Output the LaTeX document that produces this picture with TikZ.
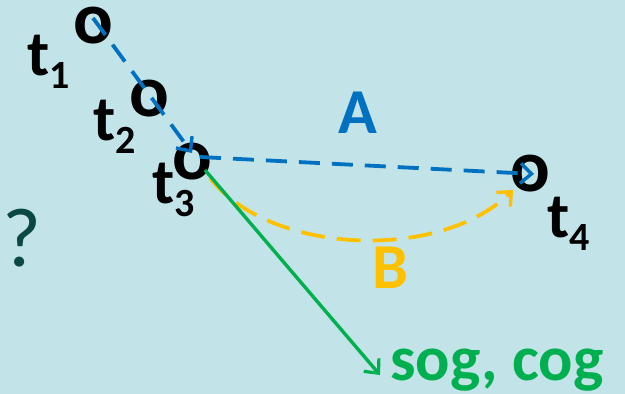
\documentclass[tikz,border=0pt]{standalone}
\usepackage{fontspec}
\setmainfont{Carlito}
\usepackage{tikz}
\usetikzlibrary{calc, arrows.meta}
\usepackage{xcolor}
\definecolor{PaleTeal}{HTML}{C2E4E8}
\definecolor{PathBlue}{HTML}{0070C0}
\definecolor{PathGold}{HTML}{FFC000}
\definecolor{PathGreen}{HTML}{00B050}
\definecolor{DeepTeal}{HTML}{0B4743}
\newcommand{\tsub}[1]{t\raisebox{-13pt}{\fontsize{40}{48}\selectfont #1}}

\begin{document}
\begin{tikzpicture}[x=1pt, y=-1pt,
    big/.style={inner sep=0pt, font=\fontsize{64}{76}\selectfont\bfseries},
    tlab/.style={big, anchor=base west},
    dot/.style={inner sep=0pt, anchor=center, font=\fontsize{74}{88}\selectfont\bfseries},
    dashA/.style={PathBlue, line width=3.8pt, dash pattern=on 21pt off 12pt, -{Straight Barb[length=11pt, width=20pt, line width=3.4pt]}},
    dashB/.style={PathGold, line width=3.8pt, dash pattern=on 24pt off 12pt, -{Straight Barb[length=11pt, width=20pt, line width=3.4pt]}},
    solidC/.style={PathGreen, line width=3.4pt, -{Straight Barb[length=11pt, width=20pt, line width=3.2pt]}}]
          \fill[PaleTeal] (0,0) rectangle (625,394);
          \useasboundingbox (0,0) rectangle (625,394);
          % time points
          \node[dot] (o1) at (93,26) {o};
          \node[dot] (o2) at (149,99) {o};
          \node[dot] (o3) at (192,162) {o};
          \node[dot] (o4) at (530,174) {o};
          \node[tlab] (t1) at (27,75) {\tsub{1}};
          \node[tlab] (t2) at (93,140) {\tsub{2}};
          \node[tlab] (t3) at (152,203) {\tsub{3}};
          \node[tlab] (t4) at (547,237) {\tsub{4}};
          \node[tlab, text=PathBlue] (labA) at (338,133) {A};
          \node[tlab, text=PathGold] (labB) at (372,288) {B};
          \node[tlab, text=PathGreen] (sog) at (390,380) {sog, cog};
          \node[inner sep=0pt, anchor=base west, text=DeepTeal, font=\fontsize{84}{96}\selectfont] (q) at (2,266) {?};
          % paths
          \draw[dashA] ([yshift=8pt]o1.center) -- ([yshift=9pt]o3.center);
          \draw[dashA] ([xshift=8pt, yshift=5pt]o3.center) -- ([xshift=4pt]o4.center);
          \draw[dashB] ([xshift=18pt, yshift=-16pt]o3.center) .. controls (270,255) and (440,262) .. ([xshift=-17pt, yshift=-16pt]o4.center);
          \coordinate (sogtip) at ($(sog.base west)+(-10pt,5pt)$);
          \draw[solidC] ([xshift=13pt, yshift=-8pt]o3.center) -- (sogtip);
        \end{tikzpicture}
\end{document}
